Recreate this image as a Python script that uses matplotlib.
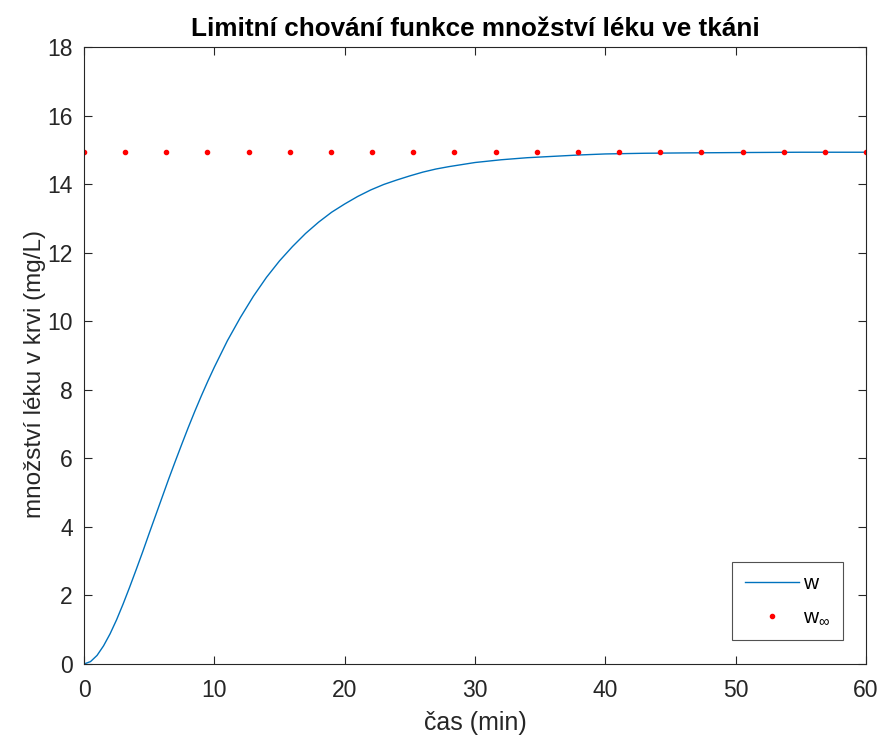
import numpy as np
import matplotlib
matplotlib.use("Agg")
import matplotlib.pyplot as plt

plt.rcParams['font.family'] = ['Liberation Sans', 'DejaVu Sans']
plt.rcParams['mathtext.fontset'] = 'custom'
plt.rcParams['mathtext.rm'] = 'Liberation Sans'

# concentration in blood over time (min, mg/L)
cas = [0, 0.5, 1, 1.5, 2, 2.5, 3, 3.5, 4, 4.5, 5, 5.5, 6, 6.5, 7, 7.5, 8,
       8.5, 9, 9.5, 10, 11, 12, 13, 14, 15, 16, 17, 18, 19, 20, 21, 22, 23,
       24, 25, 26, 27, 28, 29, 30, 32, 34, 36, 38, 40, 43, 46, 50, 55, 60]
w = [0, 0.07, 0.25, 0.53, 0.88, 1.29, 1.75, 2.24, 2.75, 3.27, 3.81, 4.34,
     4.87, 5.4, 5.91, 6.41, 6.9, 7.37, 7.82, 8.25, 8.66, 9.43, 10.11,
     10.73, 11.28, 11.76, 12.18, 12.56, 12.89, 13.18, 13.42, 13.64, 13.83,
     13.99, 14.12, 14.24, 14.35, 14.44, 14.51, 14.57, 14.63, 14.71, 14.77,
     14.81, 14.85, 14.88, 14.9, 14.91, 14.92, 14.93, 14.93]

# limit value sampled at a few times
cas_lim = [0, 3.16, 6.32, 9.47, 12.63, 15.79, 18.95, 22.11, 25.26, 28.42,
           31.58, 34.74, 37.89, 41.05, 44.21, 47.37, 50.53, 53.68, 56.84, 60]
w_inf = [14.93] * len(cas_lim)

xticks = [0, 10, 20, 30, 40, 50, 60]
yticks = [0, 2, 4, 6, 8, 10, 12, 14, 16, 18]

fig = plt.figure(figsize=(8.8, 7.42), dpi=100)
ax = fig.add_axes([84/880, 78/742, 782/880, 617/742])

ax.plot(cas, w, color='#0072BD', lw=1.0, label='w')
ax.plot(cas_lim, w_inf, '.', color='red', markersize=6, label=r'w$_{\infty}$')

ax.set_xlim(0, 60)
ax.set_ylim(0, 18)
ax.set_xticks(xticks)
ax.set_yticks(yticks)

edge = '#262626'
for s in ax.spines.values():
    s.set_color(edge)
    s.set_linewidth(0.8)
ax.tick_params(direction='in', length=6, width=0.8, top=True, right=True,
               labelsize=16.5, colors=edge)
ax.tick_params(axis='x', pad=11)
ax.tick_params(axis='y', pad=8)

ax.set_title('Limitní chování funkce množství léku ve tkáni', fontsize=18.8,
             fontweight='bold', pad=8)
ax.set_xlabel('čas (min)', fontsize=18, color=edge, labelpad=6)
ax.set_ylabel('množství léku v krvi (mg/L)', fontsize=17.5, color=edge,
              labelpad=0)
ax.yaxis.set_label_coords(-0.048, 0.47)

leg = ax.legend(loc='lower right', bbox_to_anchor=(0.9706, 0.039),
                borderaxespad=0, fancybox=False, fontsize=15,
                handlelength=2.6, handletextpad=0.2, labelspacing=0.7,
                borderpad=0.6)
leg.get_frame().set_edgecolor(edge)
leg.get_frame().set_linewidth(0.8)

fig.savefig('out.png', dpi=100)
